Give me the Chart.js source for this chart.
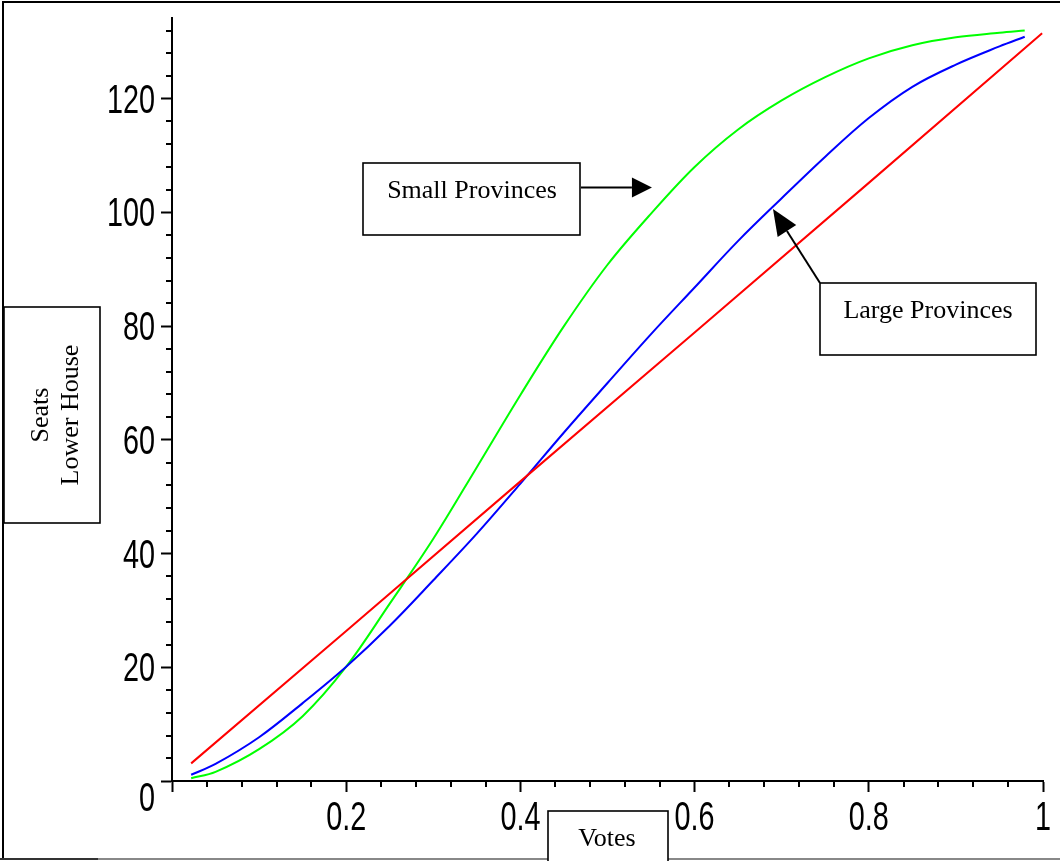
<!DOCTYPE html>
<html><head><meta charset="utf-8">
<script src="https://cdn.jsdelivr.net/npm/chart.js@4.4.1/dist/chart.umd.min.js"></script>
<style>html,body{margin:0;padding:0;background:#fff;}#wrap{position:relative;width:1060px;height:861px;overflow:hidden;}</style>
</head><body><div id="wrap"><canvas id="c" width="1060" height="861"></canvas></div>
<script>
// ---- data ----
const votes = [0.022, 0.05, 0.10, 0.15, 0.20, 0.25, 0.30, 0.35, 0.40, 0.45, 0.50, 0.55, 0.60, 0.65, 0.70, 0.75, 0.80, 0.85, 0.90, 0.95, 0.979];
const smallProvinceSeats = [0.5, 1.6, 5.6, 11.4, 20.1, 31.2, 42.6, 55.2, 67.9, 80.0, 90.8, 99.8, 108.0, 114.6, 119.7, 123.8, 127.1, 129.4, 130.8, 131.6, 132.0];
const largeProvinceSeats = [1.1, 3.0, 7.7, 13.7, 20.1, 27.3, 35.3, 43.5, 52.3, 61.3, 70.0, 78.6, 86.8, 95.0, 102.5, 109.8, 116.6, 122.1, 126.0, 129.2, 130.9];
const proportionalVotes = [0.022, 0.2, 0.4, 0.6, 0.8, 0.999];
const proportionalSeats = [3.1, 26.4, 52.7, 78.9, 105.2, 131.5];
const xTickValues = [0, 0.2, 0.4, 0.6, 0.8, 1];
const xTickLabels = ['', '0.2', '0.4', '0.6', '0.8', '1'];
const yTickValues = [0, 20, 40, 60, 80, 100, 120];
const yTickLabels = ['', '20', '40', '60', '80', '100', '120'];
const yZeroLabel = '0';
const X_MAX = 1, Y_MAX = 134.2;
const xMinorStep = 0.04, yMinorStep = 4;
const smallArrowTip = [0.551, 104.4];
const largeArrowTip = [0.690, 100.6];
const txtSmall = 'Small Provinces', txtLarge = 'Large Provinces', txtVotes = 'Votes', txtSeats1 = 'Seats', txtSeats2 = 'Lower House';

const pts = (xs, ys) => xs.map((x, i) => ({x: x, y: ys[i]}));
const tickFont = {family: "'Liberation Sans', Arial, sans-serif", size: 40};
const SQUEEZE = 0.72;
const serif = "26px 'Liberation Serif', 'Times New Roman', serif";

// narrow (condensed) rendering of the axis tick labels, like the original plot
const squeeze = {
  id: 'squeeze',
  beforeDraw(chart) {
    const ctx = chart.ctx;
    if (ctx._origFill) return;
    const orig = ctx.fillText;
    ctx._origFill = orig;
    ctx.fillText = function (t, x, y) {
      this.save(); this.scale(SQUEEZE, 1); orig.call(this, t, x / SQUEEZE, y); this.restore();
    };
  },
  beforeDatasetsDraw(chart) {
    const ctx = chart.ctx;
    if (ctx._origFill) { ctx.fillText = ctx._origFill; delete ctx._origFill; }
  }
};

function arrow(ctx, x1, y1, x2, y2, headLen, headHalf) {
  const dx = x2 - x1, dy = y2 - y1, len = Math.hypot(dx, dy);
  const ux = dx / len, uy = dy / len;
  const bx = x2 - ux * headLen, by = y2 - uy * headLen;
  ctx.beginPath(); ctx.moveTo(x1, y1); ctx.lineTo(bx, by); ctx.stroke();
  ctx.beginPath(); ctx.moveTo(x2, y2);
  ctx.lineTo(bx - uy * headHalf, by + ux * headHalf);
  ctx.lineTo(bx + uy * headHalf, by - ux * headHalf);
  ctx.closePath(); ctx.fill();
}
function box(ctx, x, y, w, h) {
  ctx.fillStyle = '#fff'; ctx.fillRect(x, y, w, h);
  ctx.lineWidth = 1.6; ctx.strokeStyle = '#000'; ctx.strokeRect(x, y, w, h);
}

const decor = {
  id: 'decor',
  afterDraw(chart) {
    const ctx = chart.ctx, xs = chart.scales.x, ys = chart.scales.y;
    const L = chart.chartArea.left, B = chart.chartArea.bottom;
    ctx.save();
    // minor ticks
    ctx.strokeStyle = '#000'; ctx.lineWidth = 2;
    ctx.beginPath();
    for (let i = 1; i * yMinorStep < Y_MAX; i++) {
      if (i % 5 === 0) continue;
      const py = Math.round(ys.getPixelForValue(i * yMinorStep));
      ctx.moveTo(L - 6, py); ctx.lineTo(L, py);
    }
    for (let i = 1; i * xMinorStep < X_MAX - 1e-9; i++) {
      if (i % 5 === 0) continue;
      const px = Math.round(xs.getPixelForValue(i * xMinorStep));
      ctx.moveTo(px, B); ctx.lineTo(px, B + 6);
    }
    ctx.stroke();
    // zero label of the y axis (sits below the axis)
    ctx.fillStyle = '#000';
    ctx.font = tickFont.size + 'px ' + tickFont.family;
    ctx.textAlign = 'right'; ctx.textBaseline = 'middle';
    ctx.save(); ctx.translate(L - 17, ys.getPixelForValue(0) + 19); ctx.scale(SQUEEZE, 1);
    ctx.fillText(yZeroLabel, 0, 0); ctx.restore();
    // frame
    ctx.fillStyle = '#000';
    ctx.fillRect(2, 1, 1058, 2);
    ctx.fillRect(2, 1, 2, 858);
    ctx.fillStyle = '#888'; ctx.fillRect(0, 858, 1060, 2);
    ctx.fillStyle = '#333'; ctx.fillRect(0, 858, 98, 2);
    // annotation boxes
    ctx.font = serif; ctx.textAlign = 'center'; ctx.textBaseline = 'middle';
    box(ctx, 363, 163, 217, 72); ctx.fillStyle = '#000'; ctx.fillText(txtSmall, 472, 191);
    box(ctx, 820, 283, 216, 72); ctx.fillStyle = '#000'; ctx.fillText(txtLarge, 928, 311);
    box(ctx, 548, 811, 120, 52); ctx.fillStyle = '#000'; ctx.fillText(txtVotes, 607, 839);
    box(ctx, 4, 307, 96, 216);
    ctx.save(); ctx.translate(56, 415); ctx.rotate(-Math.PI / 2);
    ctx.fillStyle = '#000'; ctx.fillText(txtSeats1, 0, -15); ctx.fillText(txtSeats2, 0, 15);
    ctx.restore();
    // arrows
    ctx.strokeStyle = '#000'; ctx.fillStyle = '#000'; ctx.lineWidth = 2;
    const sx = xs.getPixelForValue(smallArrowTip[0]), sy = ys.getPixelForValue(smallArrowTip[1]);
    arrow(ctx, 581, sy, sx, sy, 20, 10);
    const lx = xs.getPixelForValue(largeArrowTip[0]), ly = ys.getPixelForValue(largeArrowTip[1]);
    arrow(ctx, 820, 283, lx, ly, 26, 11);
    ctx.restore();
  }
};

new Chart(document.getElementById('c'), {
  type: 'scatter',
  data: {
    datasets: [
      {label: 'Proportional', data: pts(proportionalVotes, proportionalSeats), showLine: true, borderColor: '#ff0000', borderWidth: 2, pointRadius: 0, tension: 0},
      {label: 'Large Provinces', data: pts(votes, largeProvinceSeats), showLine: true, borderColor: '#0000ff', borderWidth: 2, pointRadius: 0, tension: 0.35},
      {label: 'Small Provinces', data: pts(votes, smallProvinceSeats), showLine: true, borderColor: '#00ff00', borderWidth: 2, pointRadius: 0, tension: 0.35}
    ]
  },
  options: {
    responsive: false, animation: false, devicePixelRatio: 1,
    layout: {padding: {left: 0, top: 18, right: 17, bottom: 0}},
    plugins: {legend: {display: false}, tooltip: {enabled: false}},
    scales: {
      x: {
        type: 'linear', position: 'bottom', min: 0, max: X_MAX,
        afterBuildTicks: s => { s.ticks = xTickValues.map(v => ({value: v})); },
        afterFit: s => { s.height = 80; s.paddingLeft = 0; s.paddingRight = 0; },
        ticks: {autoSkip: false, maxRotation: 0, padding: 3, color: '#000', font: tickFont,
          callback: (v, i) => xTickLabels[i]},
        grid: {drawOnChartArea: false, drawTicks: true, tickLength: 11, tickWidth: 2, tickColor: '#000'},
        border: {display: true, color: '#000', width: 2}
      },
      y: {
        type: 'linear', position: 'left', min: 0, max: Y_MAX,
        afterBuildTicks: s => { s.ticks = yTickValues.map(v => ({value: v})); },
        afterFit: s => { s.width = 172; s.paddingTop = 0; s.paddingBottom = 0; },
        ticks: {autoSkip: false, padding: 6, labelOffset: 3, color: '#000', font: tickFont,
          callback: (v, i) => yTickLabels[i]},
        grid: {drawOnChartArea: false, drawTicks: true, tickLength: 11, tickWidth: 2, tickColor: '#000'},
        border: {display: true, color: '#000', width: 2}
      }
    }
  },
  plugins: [squeeze, decor]
});
</script></body></html>
